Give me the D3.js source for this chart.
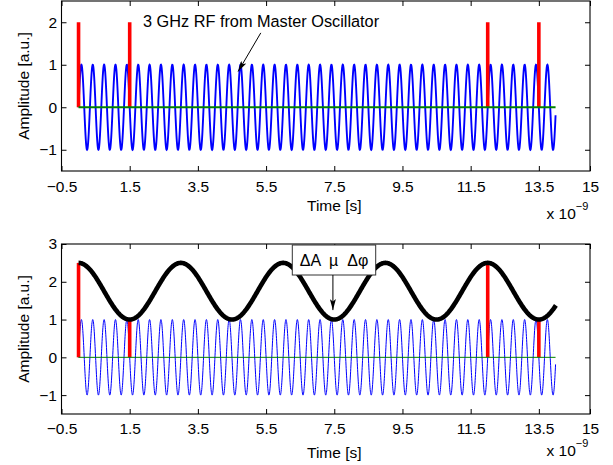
<!DOCTYPE html>
<html>
<head>
<meta charset="utf-8">
<script src="https://cdn.jsdelivr.net/npm/d3@7"></script>
<style>
  html, body { margin: 0; padding: 0; background: #fff; }
  svg { display: block; font-family: "Liberation Sans", Arial, Helvetica, sans-serif; }
</style>
</head>
<body>
<svg id="chart" width="613" height="465"></svg>
<script>
// Time axis (ns) tick values shared by both panels
const xTickValues = [-0.5, 1.5, 3.5, 5.5, 7.5, 9.5, 11.5, 13.5, 15];
const xTickLabels = ["\u22120.5", "1.5", "3.5", "5.5", "7.5", "9.5", "11.5", "13.5", "15"];
const topYTicks = [-1, 0, 1, 2];
const bottomYTicks = [-1, 0, 1, 2, 3];

// 3 GHz master-oscillator RF: [frequency GHz, amplitude, start ns, end ns]
const carrier = [3, 1, 0, 13.99];
// Amplitude-modulation envelope: [mean, swing, period ns, start ns, end ns]
const envelope = [1.75, 0.75, 3, 0, 14];
// Baseline (zero level) span in ns
const baselineSpan = [0, 13.99];

// Pulse times (ns) and their heights in each panel
const pulseTimes = [0, 1.5, 12, 13.5];
const topPulseHeights = [2, 2, 2, 2];
const bottomPulseHeights = [2.5, 1, 2.5, 1];

const svg = d3.select("#chart");

const x = d3.scaleLinear().domain([-0.5, 15]).range([61.5, 590]);
const panels = [
  { y: d3.scaleLinear().domain([-1.5, 2.5]).range([171, 1]), yTicks: topYTicks,
    heights: topPulseHeights, blueW: 1.9, greenW: 1.9, envelope: false,
    tickBase: 191.5, labelBase: 211, expBase: 219 },
  { y: d3.scaleLinear().domain([-1.5, 3]).range([414, 244]), yTicks: bottomYTicks,
    heights: bottomPulseHeights, blueW: 1, greenW: 1, envelope: true,
    tickBase: 434.3, labelBase: 457.5, expBase: 456 }
];

// Sample the carrier sine
const carrierPts = [];
{
  const [f, a, t0, t1] = carrier;
  const n = 2800;
  for (let i = 0; i <= n; i++) {
    const t = t0 + (t1 - t0) * i / n;
    carrierPts.push([t, a * Math.sin(2 * Math.PI * f * t)]);
  }
}
// Sample the envelope cosine
const envPts = [];
{
  const [m, s, p, t0, t1] = envelope;
  const n = 700;
  for (let i = 0; i <= n; i++) {
    const t = t0 + (t1 - t0) * i / n;
    envPts.push([t, m + s * Math.cos(2 * Math.PI * t / p)]);
  }
}

svg.append("defs").append("marker")
  .attr("id", "arrowhead")
  .attr("viewBox", "0 0 11 6")
  .attr("refX", 11).attr("refY", 3)
  .attr("markerWidth", 11).attr("markerHeight", 6)
  .attr("markerUnits", "userSpaceOnUse")
  .attr("orient", "auto")
  .append("path").attr("d", "M0,0 L11,3 L0,6 L2.5,3 Z").attr("fill", "#000");

panels.forEach(p => {
  const g = svg.append("g");
  const y = p.y;
  const [yb, yt] = y.range();
  const [xl, xr] = x.range();

  // axes box
  g.append("rect").attr("x", xl).attr("y", yt).attr("width", xr - xl).attr("height", yb - yt)
    .attr("fill", "#fff").attr("stroke", "#000").attr("stroke-width", 1.1);

  const line = d3.line().x(d => x(d[0])).y(d => y(d[1]));

  g.append("path").datum(carrierPts).attr("d", line)
    .attr("fill", "none").attr("stroke", "#0000ff").attr("stroke-width", p.blueW);

  g.selectAll(".pulse").data(pulseTimes).enter().append("line")
    .attr("x1", d => x(d)).attr("x2", d => x(d))
    .attr("y1", y(0)).attr("y2", (d, i) => y(p.heights[i]))
    .attr("stroke", "#ff0000").attr("stroke-width", 3.6);

  g.append("path").datum([[baselineSpan[0], 0], [baselineSpan[1], 0]]).attr("d", line)
    .attr("fill", "none").attr("stroke", "#008000").attr("stroke-width", p.greenW);

  if (p.envelope) {
    g.append("path").datum(envPts).attr("d", line)
      .attr("fill", "none").attr("stroke", "#000").attr("stroke-width", 4.6)
      .attr("stroke-linejoin", "round");
  }

  // ticks (inward) on all four sides
  const xb = d3.axisBottom(x).tickValues(xTickValues).tickSizeInner(-5).tickSizeOuter(0)
    .tickFormat((d, i) => xTickLabels[i]).tickPadding(0);
  const gx = g.append("g").attr("transform", `translate(0,${yb})`).call(xb);
  gx.select(".domain").remove();
  gx.selectAll("text").attr("dy", null).attr("y", p.tickBase - yb)
    .attr("font-size", 15.5).attr("font-family", null).attr("fill", "#000");

  const xt = d3.axisTop(x).tickValues(xTickValues).tickSizeInner(-5).tickSizeOuter(0).tickFormat("");
  const gxt = g.append("g").attr("transform", `translate(0,${yt})`).call(xt);
  gxt.select(".domain").remove();

  const yl = d3.axisLeft(y).tickValues(p.yTicks).tickSizeInner(-5).tickSizeOuter(0)
    .tickFormat(d => d < 0 ? "\u2212" + Math.abs(d) : String(d)).tickPadding(4.5);
  const gy = g.append("g").attr("transform", `translate(${xl},0)`).call(yl);
  gy.select(".domain").remove();
  gy.selectAll("text").attr("x", -4.5).attr("font-size", 15.5).attr("font-family", null).attr("fill", "#000");

  const yr = d3.axisRight(y).tickValues(p.yTicks).tickSizeInner(-5).tickSizeOuter(0).tickFormat("");
  const gyr = g.append("g").attr("transform", `translate(${xr},0)`).call(yr);
  gyr.select(".domain").remove();

  g.selectAll(".tick line").attr("stroke", "#000");

  // axis titles
  g.append("text").attr("x", x(7.5)).attr("y", p.labelBase).attr("text-anchor", "middle")
    .attr("font-size", 15.5).text("Time [s]");
  g.append("text")
    .attr("transform", `translate(28.5,${(yt + yb) / 2}) rotate(-90)`)
    .attr("text-anchor", "middle").attr("font-size", 15.5).text("Amplitude [a.u.]");

  // exponent label
  const ex = g.append("text").attr("x", 546.5).attr("y", p.expBase).attr("font-size", 15.5);
  ex.append("tspan").text("x 10");
  ex.append("tspan").attr("dy", -9).attr("font-size", 11).text("\u22129");

  p.g = g;
});

// annotations
{
  const y = panels[0].y, g = panels[0].g;
  g.append("text").attr("x", x(1.89)).attr("y", y(1.88)).attr("font-size", 16.3)
    .text("3 GHz RF from Master Oscillator");
  g.append("line").attr("x1", x(5.345)).attr("y1", y(1.75))
    .attr("x2", x(4.68)).attr("y2", y(0.84))
    .attr("stroke", "#000").attr("stroke-width", 1).attr("marker-end", "url(#arrowhead)");
}
{
  const y = panels[1].y, g = panels[1].g;
  const bx0 = 292.3, bx1 = 375.7, by0 = 245, by1 = 275;
  g.append("rect").attr("x", bx0).attr("y", by0).attr("width", bx1 - bx0).attr("height", by1 - by0)
    .attr("fill", "#fff").attr("stroke", "#333").attr("stroke-width", 1);
  g.append("text").attr("x", (bx0 + bx1) / 2).attr("y", 265.7).attr("text-anchor", "middle")
    .attr("font-size", 16).attr("xml:space", "preserve").text("\u0394A  \u00b5  \u0394\u03c6");
  g.append("line").attr("x1", x(7.46)).attr("y1", by1)
    .attr("x2", x(7.46)).attr("y2", y(1.25))
    .attr("stroke", "#000").attr("stroke-width", 1).attr("marker-end", "url(#arrowhead)");
}
</script>
</body>
</html>
